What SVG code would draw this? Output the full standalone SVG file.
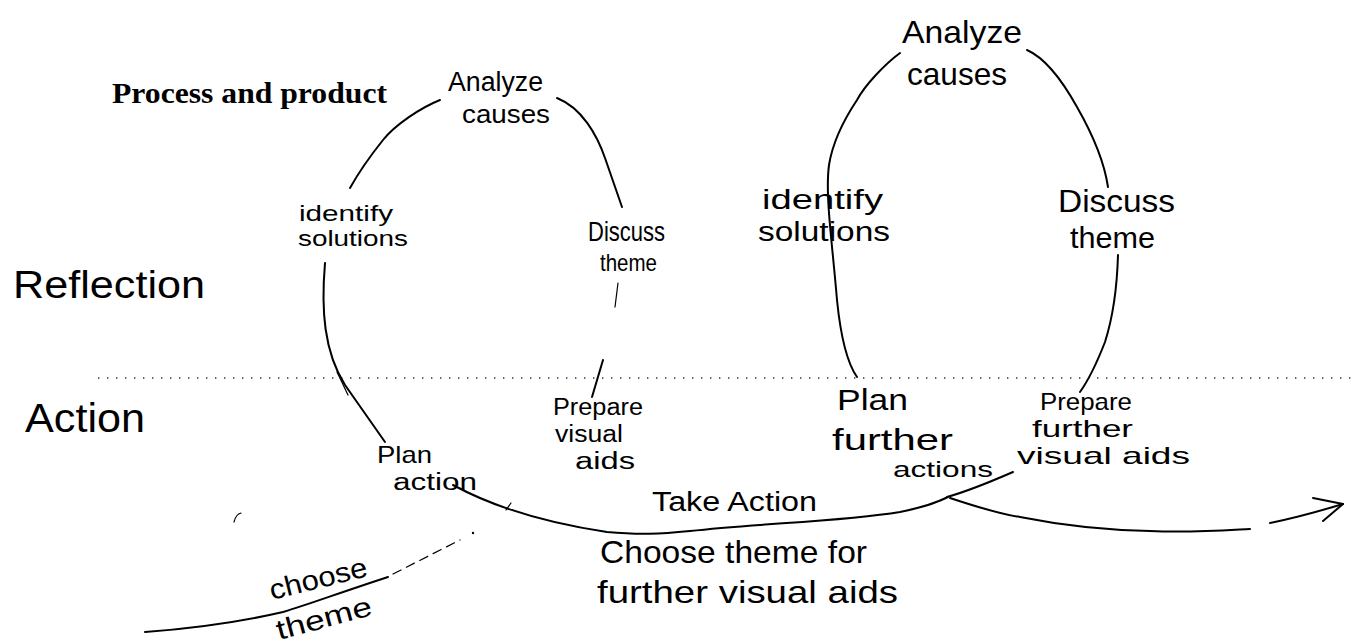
<svg xmlns="http://www.w3.org/2000/svg" width="1354" height="644" viewBox="0 0 1354 644">
<style>
.hw{font-family:"Liberation Sans","DejaVu Sans",sans-serif;fill:#000;}
.ln{fill:none;stroke:#000;stroke-width:2;stroke-linecap:round;stroke-linejoin:round;}
.thin{fill:none;stroke:#000;stroke-width:1.2;stroke-linecap:round;}
.title{font-family:"Liberation Serif","Times New Roman",serif;font-weight:bold;font-size:30px;fill:#000;}
</style>
<rect width="1354" height="644" fill="#fff"/>
<g id="connectors">
<path d="M98,378 L1354,378" fill="none" stroke="#333" stroke-width="1.4" stroke-dasharray="1.4 7.6"/>
<path class="ln" d="M440,100 C420,108 395,125 383,140 S360,170 350,188"/>
<path class="ln" d="M557,98 C582,108 597,135 605,158 S618,195 622,207"/>
<path class="ln" d="M325,263 C321,310 324,352 345,385 L385,442"/>
<path class="thin" d="M337,372 L348,395"/>
<path class="thin" d="M618,283 L615,307"/>
<path class="ln" d="M603,360 L592,397"/>
<path class="ln" d="M900,53 C885,64 865,85 857,100 C845,118 833,140 829,165 C825,195 832,240 837,300 C840,330 845,360 857,377"/>
<path class="ln" d="M1027,50 C1045,58 1062,80 1077,107 C1093,135 1104,160 1108,187"/>
<path class="ln" d="M1118,255 C1117,290 1112,320 1105,342 C1098,360 1090,378 1080,392"/>
<path class="ln" d="M453,485 C490,505 540,522 607,532 C640,535 660,534 690,531 C760,523 840,522 900,512 C925,507 938,502 948,497"/>
<path class="thin" d="M506,510 L511,503"/>
<path class="ln" d="M947,497 C965,492 990,482 1013,472"/>
<path class="ln" d="M950,498 C980,508 1000,514 1020,517 C1060,525 1100,530 1150,531 C1190,533 1230,530 1250,529"/>
<path class="ln" d="M1270,523 C1290,519 1310,514 1343,504"/>
<path class="ln" d="M1313,498 L1343,504 L1323,521"/>
<path class="ln" d="M145,632 C200,628 240,622 283,612 C310,604 330,596 388,577"/>
<path class="thin" d="M393,574 L460,540" stroke-dasharray="9 6"/>
<circle cx="473" cy="533" r="1.2" fill="#000"/>
<path class="thin" d="M234,522 Q236,514 241,513"/>
</g>
<g id="title"><text class="title" x="112" y="103" textLength="275" lengthAdjust="spacingAndGlyphs">Process and product</text></g>
<g id="lane-reflection"><text class="hw" x="13" y="298" font-size="38" textLength="192" lengthAdjust="spacingAndGlyphs">Reflection</text></g>
<g id="lane-action"><text class="hw" x="25" y="432" font-size="40" textLength="120" lengthAdjust="spacingAndGlyphs">Action</text></g>
<g id="analyze-causes-1">
<text class="hw" x="448" y="91" font-size="27" textLength="95" lengthAdjust="spacingAndGlyphs">Analyze</text>
<text class="hw" x="462" y="123" font-size="26" textLength="88" lengthAdjust="spacingAndGlyphs">causes</text>
</g>
<g id="identify-solutions-1">
<text class="hw" x="299" y="221" font-size="22" textLength="94" lengthAdjust="spacingAndGlyphs">identify</text>
<text class="hw" x="298" y="246" font-size="22" textLength="110" lengthAdjust="spacingAndGlyphs">solutions</text>
</g>
<g id="discuss-theme-1">
<text class="hw" x="588" y="241" font-size="28" textLength="77" lengthAdjust="spacingAndGlyphs">Discuss</text>
<text class="hw" x="600" y="271" font-size="24" textLength="57" lengthAdjust="spacingAndGlyphs">theme</text>
</g>
<g id="prepare-visual-aids">
<text class="hw" x="553" y="415" font-size="23" textLength="90" lengthAdjust="spacingAndGlyphs">Prepare</text>
<text class="hw" x="555" y="442" font-size="23" textLength="68" lengthAdjust="spacingAndGlyphs">visual</text>
<text class="hw" x="575" y="469" font-size="23" textLength="60" lengthAdjust="spacingAndGlyphs">aids</text>
</g>
<g id="plan-action">
<text class="hw" x="377" y="463" font-size="24" textLength="55" lengthAdjust="spacingAndGlyphs">Plan</text>
<text class="hw" x="393" y="490" font-size="23" textLength="84" lengthAdjust="spacingAndGlyphs">action</text>
</g>
<g id="take-action"><text class="hw" x="652" y="511" font-size="27" textLength="165" lengthAdjust="spacingAndGlyphs">Take Action</text></g>
<g id="choose-theme-further">
<text class="hw" x="600" y="563" font-size="32" textLength="267" lengthAdjust="spacingAndGlyphs">Choose theme for</text>
<text class="hw" x="597" y="603" font-size="32" textLength="301" lengthAdjust="spacingAndGlyphs">further visual aids</text>
</g>
<g id="choose-theme">
<text class="hw" x="272" y="600" font-size="28" textLength="100" lengthAdjust="spacingAndGlyphs" transform="rotate(-14 272 600)">choose</text>
<text class="hw" x="279" y="640" font-size="28" textLength="98" lengthAdjust="spacingAndGlyphs" transform="rotate(-15 279 640)">theme</text>
</g>
<g id="analyze-causes-2">
<text class="hw" x="902" y="43" font-size="32" textLength="120" lengthAdjust="spacingAndGlyphs">Analyze</text>
<text class="hw" x="907" y="85" font-size="32" textLength="100" lengthAdjust="spacingAndGlyphs">causes</text>
</g>
<g id="identify-solutions-2">
<text class="hw" x="762" y="209" font-size="27" textLength="121" lengthAdjust="spacingAndGlyphs">identify</text>
<text class="hw" x="758" y="241" font-size="27" textLength="132" lengthAdjust="spacingAndGlyphs">solutions</text>
</g>
<g id="discuss-theme-2">
<text class="hw" x="1058" y="212" font-size="32" textLength="117" lengthAdjust="spacingAndGlyphs">Discuss</text>
<text class="hw" x="1070" y="248" font-size="30" textLength="85" lengthAdjust="spacingAndGlyphs">theme</text>
</g>
<g id="plan-further-actions">
<text class="hw" x="837" y="410" font-size="30" textLength="71" lengthAdjust="spacingAndGlyphs">Plan</text>
<text class="hw" x="832" y="450" font-size="30" textLength="121" lengthAdjust="spacingAndGlyphs">further</text>
<text class="hw" x="893" y="477" font-size="22" textLength="100" lengthAdjust="spacingAndGlyphs">actions</text>
</g>
<g id="prepare-further-visual-aids">
<text class="hw" x="1040" y="410" font-size="24" textLength="92" lengthAdjust="spacingAndGlyphs">Prepare</text>
<text class="hw" x="1032" y="437" font-size="24" textLength="101" lengthAdjust="spacingAndGlyphs">further</text>
<text class="hw" x="1017" y="464" font-size="24" textLength="173" lengthAdjust="spacingAndGlyphs">visual aids</text>
</g>
</svg>
